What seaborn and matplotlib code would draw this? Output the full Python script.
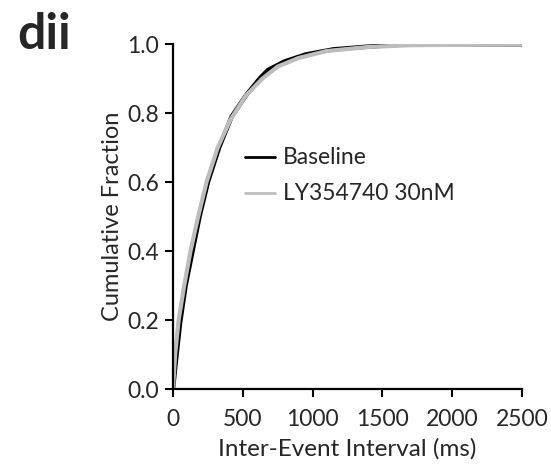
"""Cumulative fraction of inter-event intervals: Baseline vs LY354740 30nM."""

import matplotlib
matplotlib.use("Agg")
import matplotlib.pyplot as plt
import pandas as pd
import seaborn as sns

# values
baseline_ms = [0, 20, 50, 90, 140, 190, 250, 330, 420, 520, 620, 680, 800,
               950, 1150, 1400, 1700, 2500]
baseline_frac = [0.0, 0.08, 0.19, 0.30, 0.40, 0.50, 0.60, 0.70, 0.79, 0.85,
                 0.90, 0.925, 0.95, 0.97, 0.985, 0.993, 1.0, 1.0]

ly_ms = [0, 15, 40, 80, 125, 180, 240, 320, 410, 520, 640, 750, 900, 1100,
         1400, 1700, 2500]
ly_frac = [0.0, 0.10, 0.20, 0.30, 0.40, 0.50, 0.60, 0.70, 0.78, 0.85, 0.90,
           0.935, 0.96, 0.98, 0.992, 0.997, 1.0]

x_ticks = [0, 500, 1000, 1500, 2000, 2500]
y_ticks = [0.0, 0.2, 0.4, 0.6, 0.8, 1.0]

BLACK = "black"
GREY = "#bdbdbd"

sns.set_theme(style="ticks")
plt.rcParams["font.family"] = ["Lato", "DejaVu Sans"]

base = pd.DataFrame({"ms": baseline_ms, "frac": baseline_frac})
ly = pd.DataFrame({"ms": ly_ms, "frac": ly_frac})

fig = plt.figure(figsize=(5.51, 4.65), dpi=100)
ax = fig.add_axes([0.314, 0.163, 0.633, 0.742])

sns.lineplot(data=base, x="ms", y="frac", sort=False, color=BLACK,
             linewidth=3.2, ax=ax)
sns.lineplot(data=ly, x="ms", y="frac", sort=False, color=GREY,
             linewidth=3.0, ax=ax)

ax.set_xlim(0, 2500)
ax.set_ylim(0, 1.0)
ax.set_xticks(x_ticks)
ax.set_yticks(y_ticks)
ax.set_yticklabels([f"{v:.1f}" for v in y_ticks])
ax.tick_params(labelsize=16.5, width=1.5, length=6, color="black",
               direction="out", pad=4)
ax.tick_params(axis="x", pad=8)
for s in ["left", "bottom"]:
    ax.spines[s].set_linewidth(1.6)
    ax.spines[s].set_color("black")
sns.despine(ax=ax)

ax.set_xlabel("Inter-Event Interval (ms)", fontsize=17.5, labelpad=6)
ax.set_ylabel("Cumulative Fraction", fontsize=17, labelpad=3)

# legend drawn inside the axes like the original
ax.plot([516, 731], [0.672, 0.672], color=BLACK, lw=2)
ax.plot([516, 731], [0.568, 0.568], color=GREY, lw=2)
ax.text(788, 0.672, "Baseline", fontsize=16.5, va="center")
ax.text(788, 0.568, "LY354740 30nM", fontsize=16.5, va="center")

fig.text(0.032, 0.975, "dii", fontsize=36, fontweight="bold", va="top")

fig.savefig("out.png", dpi=100)
